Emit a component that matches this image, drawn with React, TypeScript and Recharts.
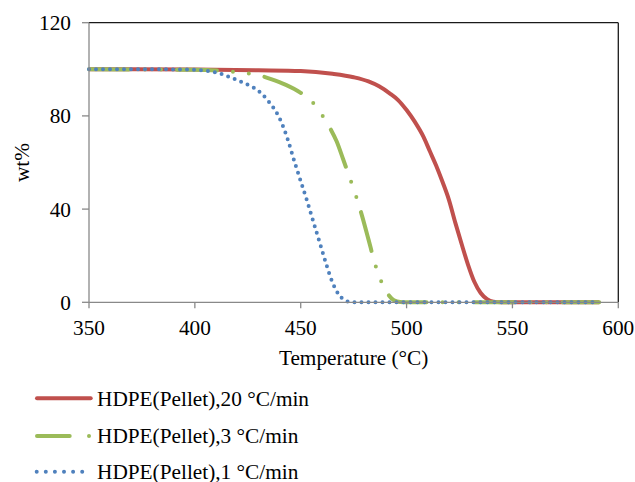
import React from 'react';
import { LineChart, Line, XAxis, YAxis, ReferenceLine, Legend } from 'recharts';

const tempTicks = [350, 400, 450, 500, 550, 600];
const wtTicks = [0, 40, 80, 120];

const seriesNames = ['HDPE(Pellet),20 °C/min', 'HDPE(Pellet),3 °C/min', 'HDPE(Pellet),1 °C/min'];
const seriesColors = ['#C0504D', '#9BBB59', '#4F81BD'];

// 20 °C/min
const t20 = [350, 400, 430, 450, 465, 475, 482, 487, 492, 496, 500, 504, 508, 511, 514, 517, 520, 523, 526, 529, 532, 535, 538, 541, 545, 591];
const w20 = [100, 99.9, 99.6, 99.3, 98.1, 96.6, 94.8, 92.7, 89.7, 86.8, 82.5, 77.3, 71, 64.8, 58.6, 51.6, 44, 34.2, 25, 16.2, 8.8, 4, 1.4, 0.3, 0, 0];

// 3 °C/min
const t3 = [350, 400, 415, 423, 430, 436, 443, 450, 455, 460, 464, 467, 470, 473, 476, 479, 482, 485, 488, 491, 494, 497, 500, 591];
const w3 = [100, 99.8, 99.2, 98.5, 97.5, 95.8, 93.3, 89.9, 86.5, 80.5, 74.5, 69, 61.5, 53.8, 46, 37, 27, 16.8, 9, 3.8, 0.9, 0.1, 0, 0];

// 1 °C/min
const t1 = [350, 380, 400, 405, 412, 418, 424, 428, 432, 435, 438, 441, 444, 447, 450, 453, 456, 459, 462, 465, 468, 471, 474, 478, 591];
const w1 = [100, 100, 99.8, 99.4, 98.2, 96.1, 93.8, 92, 89.2, 86, 82.3, 77, 69.5, 60.5, 52, 43.5, 34.5, 25.5, 16.5, 8.5, 3.3, 0.8, 0.1, 0, 0];

const toRows = (t: number[], w: number[]) => t.map((x, i) => ({ T: x, wt: w[i] }));
const rows20 = toRows(t20, w20);
const rows3 = toRows(t3, w3);
const rows1 = toRows(t1, w1);

const FONT = '"Liberation Serif", "Times New Roman", serif';
const FS = 21.3;
const AXIS_GRAY = '#898989';

const XTitle = (props: any) => {
  const vb = props.viewBox || { x: 89, y: 302.3, width: 529.3, height: 60 };
  return (
    <text x={vb.x + vb.width / 2} y={vb.y + 63} textAnchor="middle" fontSize={FS} fill="#000" fontFamily={FONT}>
      Temperature (°C)
    </text>
  );
};

const YTitle = (props: any) => {
  const vb = props.viewBox || { x: 0, y: 22.7, width: 89, height: 279.6 };
  const x = vb.x + 28.5;
  const y = vb.y + vb.height / 2;
  return (
    <text x={x} y={y} textAnchor="middle" fontSize={FS} fill="#000" fontFamily={FONT} transform={`rotate(-90, ${x}, ${y})`}>
      wt%
    </text>
  );
};

const LegendBox = () => (
  <svg width={635} height={102} style={{ overflow: 'visible', display: 'block' }}>
    <line x1={37} y1={18.3} x2={90.7} y2={18.3} stroke={seriesColors[0]} strokeWidth={4} strokeLinecap="round" />
    <text x={97} y={26} fontSize={FS} fill="#000" fontFamily={FONT}>{seriesNames[0]}</text>
    <line x1={37} y1={56} x2={92} y2={56} stroke={seriesColors[1]} strokeWidth={4} strokeLinecap="round" strokeDasharray="32.7 19.3 0 100" />
    <text x={97} y={63.3} fontSize={FS} fill="#000" fontFamily={FONT}>{seriesNames[1]}</text>
    <line x1={36.7} y1={91.7} x2={83} y2={91.7} stroke={seriesColors[2]} strokeWidth={4} strokeLinecap="round" strokeDasharray="0 9.1" />
    <text x={97} y={99} fontSize={FS} fill="#000" fontFamily={FONT}>{seriesNames[2]}</text>
  </svg>
);

export default function App() {
  return (
    <div style={{ position: 'absolute', left: 0, top: 0, width: 635, height: 482, background: '#fff', fontFamily: FONT }}>
      <LineChart width={635} height={482} margin={{ top: 22.7, right: 16.7, left: 0, bottom: 19.7 }}>
        <XAxis
          dataKey="T"
          type="number"
          domain={[350, 600]}
          ticks={tempTicks}
          interval={0}
          height={60}
          tickSize={6}
          tickMargin={11.7}
          tick={{ fontSize: FS, fill: '#000', fontFamily: FONT }}
          axisLine={{ stroke: AXIS_GRAY, strokeWidth: 1.3 }}
          tickLine={{ stroke: AXIS_GRAY, strokeWidth: 1.3 }}
          label={<XTitle />}
        />
        <YAxis
          type="number"
          domain={[0, 120]}
          ticks={wtTicks}
          interval={0}
          width={89}
          tickSize={7}
          tickMargin={11}
          tick={{ fontSize: FS, fill: '#000', fontFamily: FONT }}
          axisLine={{ stroke: AXIS_GRAY, strokeWidth: 1.3 }}
          tickLine={{ stroke: AXIS_GRAY, strokeWidth: 1.3 }}
          label={<YTitle />}
        />
        <ReferenceLine y={120} stroke="#1a1a1a" strokeWidth={1.3} />
        <ReferenceLine x={600} stroke="#1a1a1a" strokeWidth={1.3} />
        <Line data={rows20} dataKey="wt" name={seriesNames[0]} type="monotone" stroke={seriesColors[0]} strokeWidth={4} dot={false} activeDot={false} isAnimationActive={false} />
        <Line data={rows3} dataKey="wt" name={seriesNames[1]} type="monotone" stroke={seriesColors[1]} strokeWidth={4} strokeLinecap="round" strokeDasharray="40 16 0 16 0 16" dot={false} activeDot={false} isAnimationActive={false} />
        <Line data={rows1} dataKey="wt" name={seriesNames[2]} type="monotone" stroke={seriesColors[2]} strokeWidth={4} strokeLinecap="round" strokeDasharray="0 7" dot={false} activeDot={false} isAnimationActive={false} />
        <Legend
          verticalAlign="bottom"
          align="left"
          layout="horizontal"
          wrapperStyle={{ left: 0, top: 380, width: 635, height: 100 }}
          content={() => <LegendBox />}
        />
      </LineChart>
    </div>
  );
}
